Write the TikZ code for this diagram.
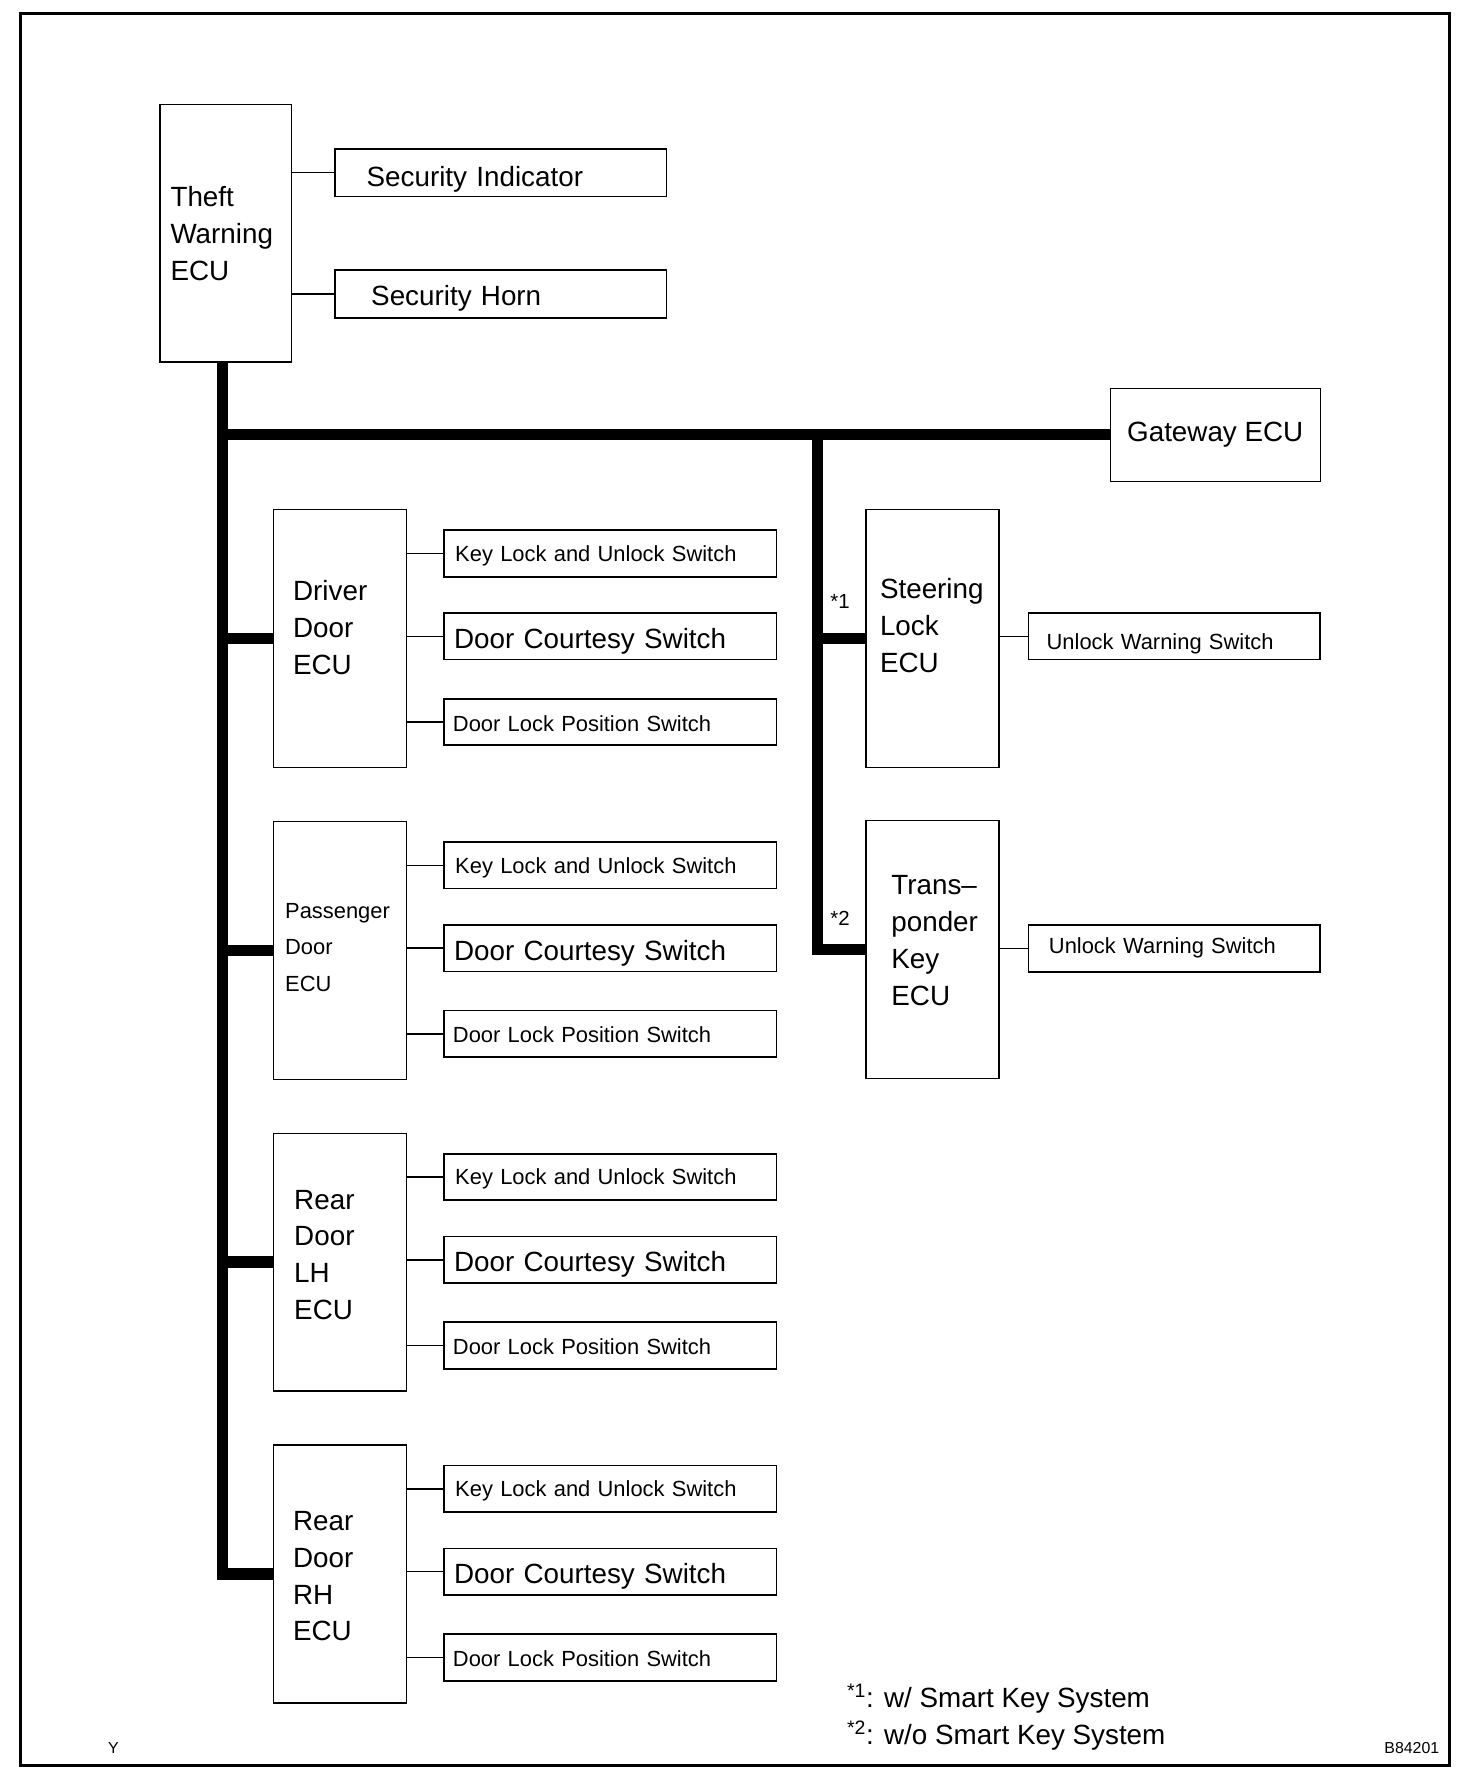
\documentclass[tikz,border=0pt]{standalone}
\usepackage{fontspec}
\setmainfont{Liberation Sans}
\usetikzlibrary{calc}
\newcommand\doorgroup[2]{%
  \node[ecu] (#1) at (299.5,{#2+113.5}) {};
  \node[swS, text width=273pt, inner xsep=10pt] (#1KL) at (537.5,{#2+38.5}) {Key Lock and Unlock Switch};
  \node[swB, text width=275pt, inner xsep=9pt, text height=21pt] (#1DC) at (537.5,{#2+111.5}) {Door Courtesy Switch};
  \node[swS, text width=277pt, inner xsep=8pt, text height=16pt] (#1DL) at (537.5,{#2+187}) {Door Lock Position Switch};
  \draw[wire] (#1KL.west -| #1.east) -- (#1KL.west);
  \draw[wire] (#1DC.west -| #1.east) -- (#1DC.west);
  \draw[wire] (#1DL.west -| #1.east) -- (#1DL.west);
  \draw[bus] (#1.west -| bx) -- (#1.west);
}
\begin{document}
\begin{tikzpicture}[x=1pt,y=-1pt,
  big/.style={font=\fontsize{24.5}{32.5}\selectfont},
  small/.style={font=\fontsize{19.3}{32.5}\selectfont},
  ecu/.style={draw, line width=1.2pt, minimum width=117pt, minimum height=227pt, inner sep=0pt},
  lbl/.style={anchor=base west, align=left, inner sep=0pt},
  swbox/.style={draw, line width=1.5pt, minimum height=41pt, text depth=0pt, align=left, inner ysep=2pt},
  swS/.style={swbox, small, text height=13.9pt},
  swB/.style={swbox, big, text height=17.6pt},
  wire/.style={line width=1.2pt},
  bus/.style={line width=10pt},
  tiny/.style={font=\fontsize{14}{16}\selectfont, inner sep=0pt},
]
\useasboundingbox (0,0) rectangle (1296.7,1568);
\draw[line width=3pt] (18,12) rectangle (1277,1555);

\coordinate (bx) at (196,0);
\coordinate (brx) at (720,0);

% Theft warning ECU (text nodes: base anchor = baseline of last line)
\node[ecu, minimum width=116pt] (theft) at (199,205.5) {};
\node[big, lbl] (theftT) at (150,247) {Theft\\Warning\\ECU};
\node[swB, minimum height=42pt, text width=236pt, inner xsep=28pt, text height=25pt] (secind) at (441,152) {Security Indicator};
\node[swB, minimum height=42pt, text width=228pt, inner xsep=32pt, text height=21pt] (sechorn) at (441,259) {Security Horn};
\draw[wire] (secind.west -| theft.east) -- (secind.west);
\draw[wire] (sechorn.west -| theft.east) -- (sechorn.west);

% Gateway
\node[draw, line width=1.2pt, minimum width=185pt, minimum height=82pt, big] (gw) at (1070.5,383) {Gateway ECU};

% Steering lock / transponder
\node[ecu] (st) at (821.5,562.5) {};
\node[big, lbl] (stT) at (775,592) {Steering\\Lock\\ECU};
\node[ecu] (tp) at (821.5,836.5) {};
\node[big, lbl] (tpT) at (785,885.5) {Trans–\\ponder\\Key\\ECU};
\node[swS, text width=225pt, inner xsep=16pt, text height=23pt] (uw1) at (1034.5,560.5) {Unlock Warning Switch};
\node[swS, text width=221pt, inner xsep=18pt, text depth=5pt] (uw2) at (1034.5,835.5) {Unlock Warning Switch};
\draw[wire] (uw1.west -| st.east) -- (uw1.west);
\draw[wire] (uw2.west -| tp.east) -- (uw2.west);
\node[font=\fontsize{18}{20}\selectfont, inner sep=0pt] (m1) at (740,530) {*1};
\node[font=\fontsize{18}{20}\selectfont, inner sep=0pt] (m2) at (740,809) {*2};

% Door ECUs
\doorgroup{drv}{449}
\doorgroup{pas}{723.7}
\doorgroup{lh}{998.3}
\doorgroup{rh}{1273}
\node[big, lbl] (drvT) at (258,594) {Driver\\Door\\ECU};
\node[small, lbl, font=\fontsize{19.3}{32}\selectfont] (pasT) at (251,873) {Passenger\\Door\\ECU};
\node[big, lbl] (lhT) at (259,1162.5) {Rear\\Door\\LH\\ECU};
\node[big, lbl] (rhT) at (258,1445.5) {Rear\\Door\\RH\\ECU};

% Bus lines
\draw[bus] (theft.south -| bx) -- (rh.west -| bx) -- (rh.west);
\draw[bus] (gw.west -| bx) -- (gw.west);
\draw[bus] (gw.west -| brx) -- (tp.west -| brx) -- (tp.west);
\draw[bus] (st.west -| brx) -- (st.west);

% Footnotes
\node[big, lbl] (fn1) at (746,1504) {\textsuperscript{*1}: w/ Smart Key System};
\node[big, lbl] (fn2) at (746,1537) {\textsuperscript{*2}: w/o Smart Key System};
\node[tiny, anchor=base west] (ymark) at (95,1545) {Y};
\node[tiny, anchor=base east] (code) at (1268,1545) {B84201};
\end{tikzpicture}
\end{document}
